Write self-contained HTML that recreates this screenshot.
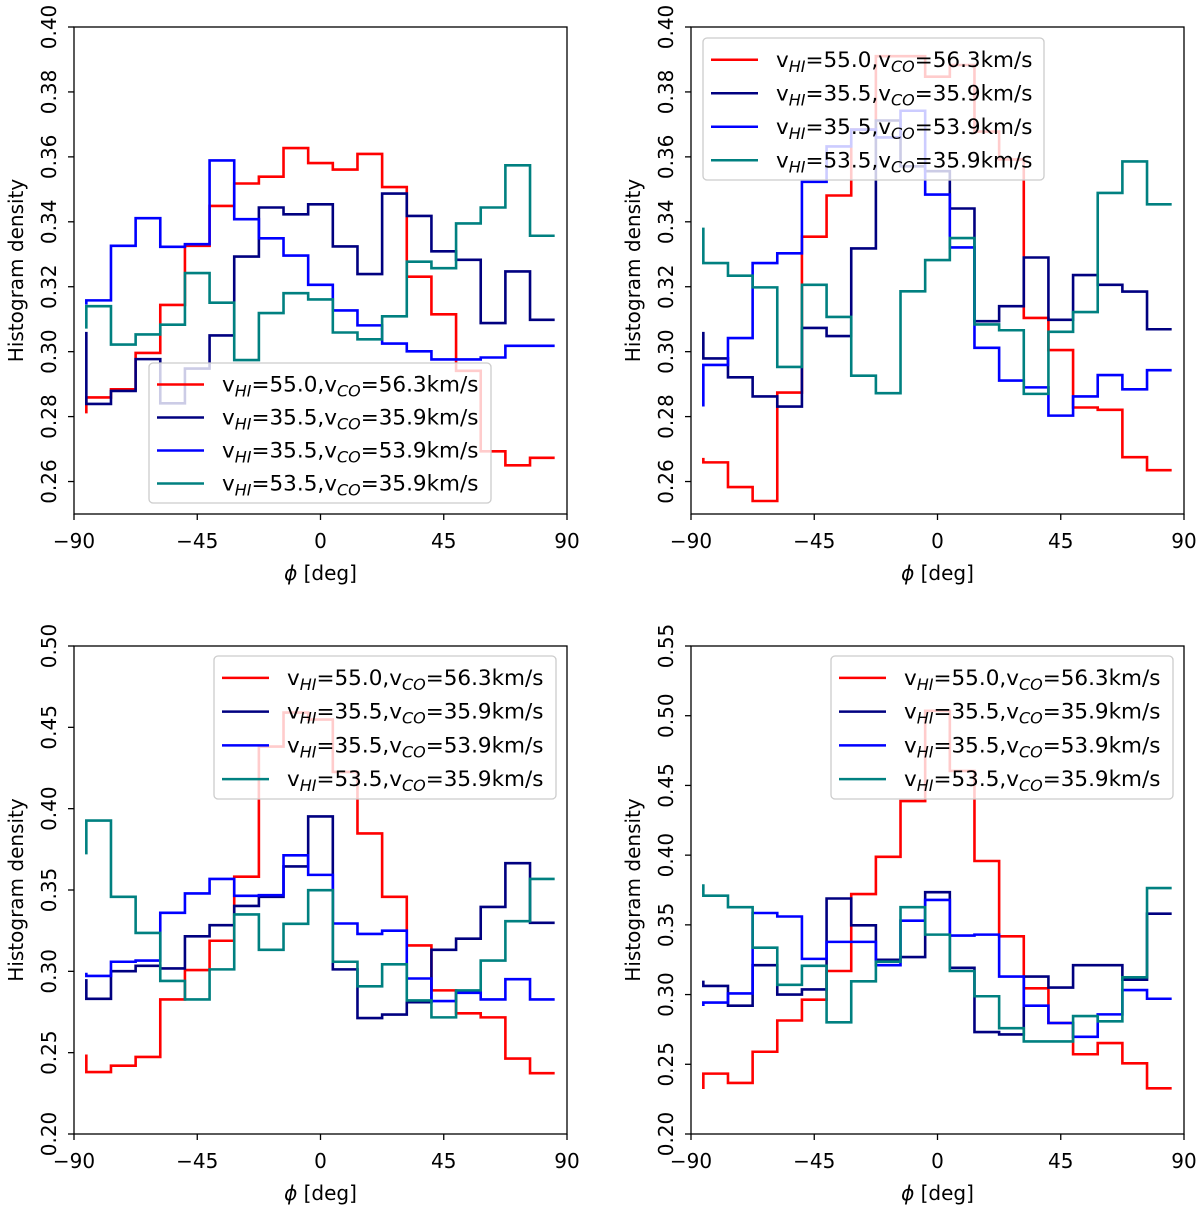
<!DOCTYPE html>
<html><head><meta charset="utf-8"><style>
html,body{margin:0;padding:0;background:#fff;}
svg{display:block;font-family:"DejaVu Sans","Liberation Sans",sans-serif;}
</style></head><body>
<svg id="fig" width="1200" height="1210" viewBox="0 0 1200 1210"></svg>
<script>
const binEdges=[-85.5,-76.5,-67.5,-58.5,-49.5,-40.5,-31.5,-22.5,-13.5,-4.5,4.5,13.5,22.5,31.5,40.5,49.5,58.5,67.5,76.5,85.5];
const xTicks=[-90,-45,0,45,90];
const xTickLabels=["\u221290","\u221245","0","45","90"];
const yTicksTop=[0.26,0.28,0.30,0.32,0.34,0.36,0.38,0.40];
const yTicksP3=[0.20,0.25,0.30,0.35,0.40,0.45,0.50];
const yTicksP4=[0.20,0.25,0.30,0.35,0.40,0.45,0.50,0.55];
const seriesNames=["vHI=55.0,vCO=56.3km/s","vHI=35.5,vCO=35.9km/s","vHI=35.5,vCO=53.9km/s","vHI=53.5,vCO=35.9km/s"];
// first value = left stub start, then 19 bin levels
const p1Red=[0.281,0.2859,0.2884,0.2996,0.3144,0.3326,0.3449,0.3518,0.3539,0.3627,0.3581,0.3561,0.3609,0.3507,0.3231,0.3115,0.2941,0.2693,0.2650,0.2673];
const p1Navy=[0.3061,0.2839,0.2879,0.2977,0.2841,0.2948,0.3050,0.3293,0.3444,0.3423,0.3454,0.3324,0.3239,0.3487,0.3418,0.3309,0.3283,0.3088,0.3247,0.3098];
const p1Blue=[0.3145,0.3158,0.3326,0.3411,0.3323,0.3331,0.3589,0.3408,0.3349,0.3296,0.3206,0.3127,0.3081,0.3025,0.3001,0.2976,0.2976,0.2982,0.3018,0.3018];
const p1Teal=[0.3071,0.3140,0.3022,0.3053,0.3083,0.3242,0.3151,0.2974,0.3119,0.3180,0.3161,0.3059,0.3038,0.3109,0.3277,0.3257,0.3395,0.3444,0.3574,0.3357];
const p2Red=[0.2673,0.2659,0.2583,0.2540,0.2874,0.3354,0.3481,0.3684,0.3910,0.3910,0.3847,0.3883,0.3678,0.3592,0.3104,0.3005,0.2828,0.2821,0.2675,0.2635];
const p2Navy=[0.3061,0.2979,0.2921,0.2862,0.2831,0.3073,0.3048,0.3318,0.3712,0.3571,0.3556,0.3441,0.3094,0.3140,0.3290,0.3098,0.3236,0.3206,0.3185,0.3069];
const p2Blue=[0.2831,0.2959,0.3042,0.3273,0.3303,0.3523,0.3632,0.3684,0.3660,0.3742,0.3484,0.3321,0.3012,0.2911,0.2890,0.2803,0.2862,0.2928,0.2884,0.2943];
const p2Teal=[0.3382,0.3273,0.3234,0.3198,0.2953,0.3206,0.3107,0.2926,0.2872,0.3186,0.3282,0.3350,0.3084,0.3066,0.2870,0.3061,0.3122,0.3489,0.3586,0.3454];
const p3Red=[0.2489,0.2381,0.2420,0.2474,0.2827,0.3008,0.3188,0.3582,0.4382,0.4591,0.4548,0.4226,0.3848,0.3458,0.3159,0.2883,0.2742,0.2717,0.2464,0.2374];
const p3Navy=[0.2952,0.2831,0.3001,0.3034,0.3018,0.3215,0.3284,0.3402,0.3458,0.3645,0.3952,0.3012,0.2713,0.2734,0.2810,0.3132,0.3201,0.3396,0.3665,0.3298];
const p3Blue=[0.2991,0.2972,0.3059,0.3066,0.3360,0.3479,0.3568,0.3464,0.3468,0.3713,0.3593,0.3294,0.3230,0.3250,0.2956,0.2817,0.2868,0.2827,0.2952,0.2827];
const p3Teal=[0.3719,0.3927,0.3458,0.3236,0.2941,0.2827,0.3012,0.3350,0.3132,0.3292,0.3499,0.3059,0.2908,0.3043,0.2821,0.2717,0.2883,0.3066,0.3308,0.3568];
const p4Red=[0.2323,0.2433,0.2366,0.2590,0.2814,0.2963,0.3169,0.3721,0.3988,0.4388,0.5035,0.4604,0.3958,0.3418,0.3045,0.2796,0.2572,0.2652,0.2507,0.2328];
const p4Navy=[0.3100,0.3062,0.2920,0.3211,0.3000,0.3037,0.3689,0.3497,0.3249,0.3269,0.3734,0.3192,0.2731,0.2714,0.3129,0.3050,0.3211,0.3211,0.3107,0.3580];
const p4Blue=[0.2918,0.2943,0.3008,0.3585,0.3560,0.3256,0.3378,0.3378,0.3211,0.3530,0.3679,0.3423,0.3430,0.3129,0.2920,0.2796,0.2697,0.2858,0.3032,0.2970];
const p4Teal=[0.3791,0.3709,0.3627,0.3336,0.3070,0.3206,0.2801,0.3095,0.3236,0.3627,0.3430,0.3169,0.2988,0.2759,0.2664,0.2664,0.2846,0.2808,0.3124,0.3764];

const NS="http://www.w3.org/2000/svg";
const svg=document.getElementById('fig');
const colors=["#ff0000","#000080","#0000ff","#008080"];
const keys=["red","navy","blue","teal"];
function mk(tag,attrs,parent){const e=document.createElementNS(NS,tag);for(const k in attrs)e.setAttribute(k,attrs[k]);(parent||svg).appendChild(e);return e;}

const panels=[
 {id:"panel-top-left",L:74,R:567,T:27,B:514,ymin:0.25,ymax:0.40,ticks:yTicksTop,dec:2,series:[p1Red,p1Navy,p1Blue,p1Teal],leg:{x:149,y:363,w:342,h:140}},
 {id:"panel-top-right",L:691,R:1184,T:27,B:514,ymin:0.25,ymax:0.40,ticks:yTicksTop,dec:2,series:[p2Red,p2Navy,p2Blue,p2Teal],leg:{x:703,y:38,w:341,h:142}},
 {id:"panel-bottom-left",L:74,R:567,T:646,B:1134,ymin:0.20,ymax:0.50,ticks:yTicksP3,dec:2,series:[p3Red,p3Navy,p3Blue,p3Teal],leg:{x:214,y:656,w:342,h:143}},
 {id:"panel-bottom-right",L:691,R:1184,T:646,B:1134,ymin:0.20,ymax:0.55,ticks:yTicksP4,dec:2,series:[p4Red,p4Navy,p4Blue,p4Teal],leg:{x:831,y:656,w:342,h:143}}
];

panels.forEach(p=>{
  const g=mk('g',{});
  
  
  const xs=v=>p.L+(v+90)/180*(p.R-p.L);
  const ys=v=>p.B-(v-p.ymin)/(p.ymax-p.ymin)*(p.B-p.T);
  const clipId='clip-'+p.id;
  const cp=mk('clipPath',{id:clipId},g);
  mk('rect',{x:p.L,y:p.T,width:p.R-p.L,height:p.B-p.T},cp);
  p.series.forEach((vals,si)=>{
    let d='M'+xs(binEdges[0]).toFixed(2)+' '+ys(vals[0]).toFixed(2);
    for(let i=0;i<binEdges.length-1;i++){
      d+=' V'+ys(vals[i+1]).toFixed(2)+' H'+xs(binEdges[i+1]).toFixed(2);
    }
    const path=mk('path',{d:d,fill:'none',stroke:colors[si],'stroke-width':2.6,'stroke-linejoin':'miter','clip-path':'url(#'+clipId+')'},g);
    
    
  });
  const fr=mk('rect',{x:p.L,y:p.T,width:p.R-p.L,height:p.B-p.T,fill:'none',stroke:'#000','stroke-width':1.3},g);
  
  
  xTicks.forEach((t,i)=>{
    const x=xs(t);
    mk('line',{x1:x,y1:p.B,x2:x,y2:p.B+6,stroke:'#000','stroke-width':1.3},g);
    const tx=mk('text',{x:x,y:p.B+34,'text-anchor':'middle','font-size':20,fill:'#000'},g);
    tx.textContent=xTickLabels[i];
    
    
  });
  p.ticks.forEach(t=>{
    const y=ys(t);
    mk('line',{x1:p.L-6,y1:y,x2:p.L,y2:y,stroke:'#000','stroke-width':1.3},g);
    const tx=mk('text',{x:0,y:0,'text-anchor':'middle','font-size':20,fill:'#000',transform:'translate('+(p.L-18)+','+y+') rotate(-90)'},g);
    tx.textContent=t.toFixed(p.dec);
    
    
  });
  const xt=mk('text',{x:(p.L+p.R)/2,y:p.B+66,'text-anchor':'middle','font-size':20,fill:'#000'},g);
  xt.innerHTML='<tspan font-style="italic">\u03d5</tspan> [deg]';
  
  
  const yt=mk('text',{x:0,y:0,'text-anchor':'middle','font-size':20,fill:'#000',transform:'translate('+(p.L-51)+','+((p.T+p.B)/2)+') rotate(-90)'},g);
  yt.textContent='Histogram density';
  
  
  const lg=mk('g',{},g);
  
  
  const L=p.leg;
  mk('rect',{x:L.x,y:L.y,width:L.w,height:L.h,rx:4,fill:'#fff','fill-opacity':0.8,stroke:'#cccccc','stroke-width':1.3},lg);
  const rowH=(L.h-8)/4;
  seriesNames.forEach((nm,si)=>{
    const cy=L.y+4+rowH*(si+0.5)+1;
    const e=mk('g',{},lg);
    
    
    mk('line',{x1:L.x+8,y1:cy,x2:L.x+55,y2:cy,stroke:colors[si],'stroke-width':2.6},e);
    const m=nm.match(/vHI=([\d.]+),vCO=([\d.]+)km\/s/);
    const t=mk('text',{x:L.x+73,y:cy+7,'font-size':21.5,fill:'#000'},e);
    t.innerHTML='v<tspan font-style="italic" font-size="16" dy="5">HI</tspan><tspan dy="-5">='+m[1]+',v</tspan><tspan font-style="italic" font-size="16" dy="5">CO</tspan><tspan dy="-5">='+m[2]+'km/s</tspan>';
  });
});
</script>
</body></html>
